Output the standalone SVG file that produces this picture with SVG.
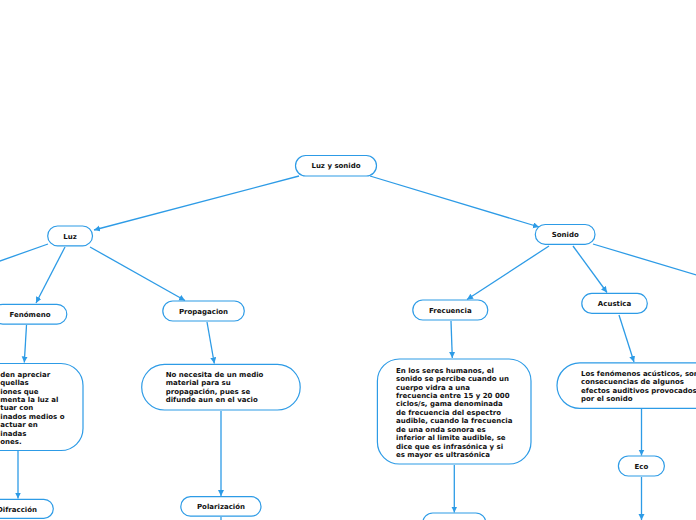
<svg xmlns="http://www.w3.org/2000/svg" width="696" height="520" viewBox="0 0 696 520">
<style>
.n{fill:#fff;stroke:#2d9be6;stroke-width:1.2}
.t{font-family:"DejaVu Sans",Verdana,sans-serif;font-weight:bold;font-size:7px;fill:#111}
.c{text-anchor:middle}
.e{stroke:#2d9be6;stroke-width:1.3;fill:none;marker-end:url(#a)}
</style>
<defs>
<marker id="a" markerUnits="userSpaceOnUse" markerWidth="8" markerHeight="8" refX="6" refY="3" orient="auto">
<path d="M0,0 L6,3 L0,6 Z" fill="#2d9be6"/>
</marker>
</defs>
<rect width="696" height="520" fill="#fff"/>
<g id="connectors">
<line class="e" x1="299" y1="176" x2="94" y2="230"/>
<line class="e" x1="370" y1="176" x2="539" y2="227"/>
<line x1="48" y1="244" x2="-30" y2="271.6" stroke="#2d9be6" stroke-width="1.3"/>
<line class="e" x1="65" y1="247" x2="36" y2="303"/>
<line class="e" x1="90" y1="247" x2="185" y2="300.5"/>
<line class="e" x1="549" y1="246" x2="467" y2="299.5"/>
<line class="e" x1="573" y1="246" x2="607" y2="292.5"/>
<line x1="593" y1="244" x2="720" y2="282" stroke="#2d9be6" stroke-width="1.3"/>
<line class="e" x1="26.5" y1="325" x2="24.3" y2="362.5"/>
<line class="e" x1="207" y1="322" x2="214.3" y2="363.5"/>
<line class="e" x1="451" y1="321" x2="452.3" y2="358"/>
<line class="e" x1="619" y1="315" x2="634" y2="362"/>
<line class="e" x1="18" y1="451" x2="18" y2="498.5"/>
<line class="e" x1="221" y1="411" x2="221" y2="496"/>
<line class="e" x1="454.3" y1="465" x2="454.3" y2="512.5"/>
<line class="e" x1="641.5" y1="409" x2="641.5" y2="455.5"/>
<line class="e" x1="641.5" y1="477" x2="641.5" y2="520"/>
<line x1="221" y1="517" x2="221" y2="530" stroke="#2d9be6" stroke-width="1.3"/>
</g>
<g id="luz-y-sonido">
<rect class="n" x="295.5" y="155.5" width="81" height="20.5" rx="10.2"/>
<text class="t c" x="336" y="168.2">Luz y sonido</text>
</g>
<g id="luz">
<rect class="n" x="47.7" y="226" width="44.8" height="19.8" rx="9.9"/>
<text class="t c" x="70" y="238.5">Luz</text>
</g>
<g id="sonido">
<rect class="n" x="535.3" y="224.5" width="59.7" height="19.8" rx="9.9"/>
<text class="t c" x="565.2" y="237">Sonido</text>
</g>
<g id="fenomeno">
<rect class="n" x="-7" y="304.3" width="73.8" height="19.8" rx="9.9"/>
<text class="t c" x="30" y="316.8">Fenómeno</text>
</g>
<g id="propagacion">
<rect class="n" x="162.8" y="301" width="81.5" height="20" rx="10"/>
<text class="t c" x="203.5" y="313.5">Propagacion</text>
</g>
<g id="frecuencia">
<rect class="n" x="412.8" y="300" width="75" height="20" rx="10"/>
<text class="t c" x="450.3" y="312.5">Frecuencia</text>
</g>
<g id="acustica">
<rect class="n" x="581.8" y="293.4" width="65.5" height="20" rx="10"/>
<text class="t c" x="614.5" y="306">Acustica</text>
</g>
<g id="fenomeno-texto">
<rect class="n" x="-40" y="363.5" width="123" height="87" rx="22"/>
<text class="t" x="0.3" y="376.6">den apreciar<tspan x="0.3" dy="8.45">quellas</tspan><tspan x="0.3" dy="8.45">iones que</tspan><tspan x="0.3" dy="8.45">menta la luz al</tspan><tspan x="0.3" dy="8.45">tuar con</tspan><tspan x="0.3" dy="8.45">inados medios o</tspan><tspan x="0.3" dy="8.45">actuar en</tspan><tspan x="0.3" dy="8.45">inadas</tspan><tspan x="0.3" dy="8.45">ones.</tspan></text>
</g>
<g id="propagacion-texto">
<rect class="n" x="141.7" y="364.4" width="158.5" height="45.6" rx="22.8"/>
<text class="t" x="165.7" y="376.9">No necesita de un medio<tspan x="165.7" dy="8.45">material para su</tspan><tspan x="165.7" dy="8.45">propagación, pues se</tspan><tspan x="165.7" dy="8.45">difunde aun en el vacio</tspan></text>
</g>
<g id="frecuencia-texto">
<rect class="n" x="377.4" y="359" width="153.6" height="105" rx="22"/>
<text class="t" x="396" y="372.6">En los seres humanos, el<tspan x="396" dy="8.45">sonido se percibe cuando un</tspan><tspan x="396" dy="8.45">cuerpo vidra a una</tspan><tspan x="396" dy="8.45">frecuencia entre 15 y 20 000</tspan><tspan x="396" dy="8.45">ciclos/s, gama denominada</tspan><tspan x="396" dy="8.45">de frecuencia del espectro</tspan><tspan x="396" dy="8.45">audible, cuando la frecuencia</tspan><tspan x="396" dy="8.45">de una onda sonora es</tspan><tspan x="396" dy="8.45">inferior al limite audible, se</tspan><tspan x="396" dy="8.45">dice que es infrasónica y si</tspan><tspan x="396" dy="8.45">es mayor es ultrasónica</tspan></text>
</g>
<g id="acustica-texto">
<rect class="n" x="557" y="362.8" width="185" height="45.6" rx="22.8"/>
<text class="t" x="581" y="375.9">Los fenómenos acústicos, son<tspan x="581" dy="8.45">consecuencias de algunos</tspan><tspan x="581" dy="8.45">efectos auditivos provocados</tspan><tspan x="581" dy="8.45">por el sonido</tspan></text>
</g>
<g id="difraccion">
<rect class="n" x="-19.5" y="499.3" width="72.8" height="19" rx="9.5"/>
<text class="t c" x="17" y="511.5">Difracción</text>
</g>
<g id="polarizacion">
<rect class="n" x="180.8" y="496.7" width="80.2" height="19.5" rx="9.7"/>
<text class="t c" x="221" y="509">Polarización</text>
</g>
<g id="eco">
<rect class="n" x="618.4" y="456" width="46" height="20" rx="10"/>
<text class="t c" x="641.4" y="468.5">Eco</text>
</g>
<g id="frecuencia-hijo">
<rect class="n" x="422.8" y="513" width="63" height="20" rx="10"/>
</g>
</svg>
